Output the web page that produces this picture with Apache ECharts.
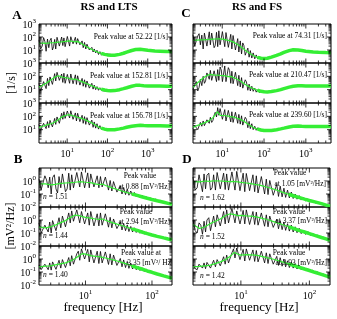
<!DOCTYPE html>
<html><head><meta charset="utf-8">
<script src="https://cdn.jsdelivr.net/npm/echarts@6/dist/echarts.min.js"></script>
<style>html,body{margin:0;padding:0;background:#fff}#c{width:337px;height:319px}</style>
</head><body><div id="c"></div>
<script>
// ---------- DATA ----------
// frequency grids (Hz)
const freqHi = [2, 2.2, 2.4, 2.6, 2.8, 3, 3.25, 3.5, 3.75, 4, 4.3, 4.6, 4.9, 5.2, 5.6, 6, 6.4, 6.8, 7.3, 7.8, 8.3, 8.9, 9.5, 10.1, 10.8, 11.5, 12.3, 13.1, 14, 15, 16, 17, 18.2, 19.4, 20.7, 22, 23.5, 25, 27, 29, 31, 33, 35.5, 38, 41, 44, 47, 51, 55, 60, 65, 71, 78, 86, 95, 105, 120, 140, 170, 200, 250, 320, 400, 500, 650, 800, 1000, 1300, 1700, 2200, 2800, 3400, 4000];
const smoothHi = [2, 2.5, 3, 4, 5, 6, 7, 7.6, 8, 9, 10, 11, 12, 14, 16, 18, 20, 23, 26, 30, 35, 40, 50, 60, 70, 85, 100, 120, 150, 200, 250, 300, 400, 500, 650, 800, 1000, 1500, 2000, 3000, 4000];
const freqLo = [2, 2.15, 2.3, 2.45, 2.6, 2.75, 2.9, 3.05, 3.2, 3.4, 3.6, 3.8, 4, 4.25, 4.5, 4.75, 5, 5.3, 5.6, 5.9, 6.2, 6.6, 7, 7.4, 7.8, 8.2, 8.7, 9.2, 9.7, 10.2, 10.8, 11.4, 12, 12.7, 13.4, 14.2, 15, 15.9, 16.8, 17.8, 18.8, 19.9, 21, 22.2, 23.5, 24.9, 26.4, 28, 29.7, 31.5, 33.4, 35.4, 37.5, 40, 42.5, 45, 48, 51, 54.5, 58, 62, 66, 71, 76, 82, 88, 95, 103, 112, 122, 133, 145, 158, 172, 186, 200];
const smoothLo = [2, 2.5, 3, 3.5, 4, 5, 6, 7, 8, 9, 10, 12, 14, 16, 18, 20, 23, 26, 30, 35, 40, 50, 60, 70, 85, 100, 120, 150, 175, 200];

// Panel A (RS and LTS), rate [1/s]
const a1Raw = [60, 12, 20, 90, 45, 8, 70, 15, 55, 80, 10, 18, 65, 12, 95, 75, 20, 15, 100, 22, 85, 18, 25, 110, 90, 20, 105, 80, 30, 22, 95, 28, 75, 70, 25, 20, 50, 15, 38, 12, 28, 22, 10, 8, 16, 7, 12, 6, 9.5, 4.5, 7.5, 4, 6, 3.5, 5, 3.6, 4.6, 3.7, 4.6, 4.5, 5.8, 7.5, 9.8, 11, 11.5, 10.5, 9.3, 8.5, 8.2, 7.9, 7.6, 7.5, 7.4];
const a2Raw = [30, 8, 10, 40, 45, 12, 70, 20, 90, 120, 25, 35, 160, 45, 200, 180, 50, 40, 150, 35, 170, 30, 35, 140, 130, 30, 150, 120, 28, 30, 130, 25, 110, 90, 22, 20, 70, 18, 55, 15, 45, 38, 13, 12, 30, 11, 22, 10, 17, 9, 14, 8.5, 12, 8, 10, 8, 9, 8, 9.6, 10, 12.5, 15, 18.5, 21, 21.5, 20, 19.2, 18.8, 18.5, 18.3, 18, 18, 18];
const a3Raw = [25, 9, 10, 30, 35, 12, 40, 14, 50, 55, 16, 20, 70, 25, 90, 120, 30, 40, 170, 60, 220, 70, 80, 250, 230, 75, 260, 200, 60, 50, 180, 45, 170, 150, 40, 35, 120, 30, 95, 25, 80, 65, 22, 18, 52, 15, 38, 13, 28, 11, 20, 10, 15, 9, 12, 9, 10.5, 9.5, 11, 11.5, 13.5, 15.5, 18.2, 20, 21.2, 20.5, 20, 19.8, 19.6, 19.4, 19.2, 19, 19];
const a1Fit = [33, 34, 32, 36, 37, 40, 42, 43, 44, 46, 48, 50, 50, 45, 42, 46, 38, 30, 24, 18, 14, 11.5, 8, 6.5, 5.5, 4.6, 4.2, 3.9, 4, 4.6, 5.6, 6.8, 9.2, 10.8, 11.2, 10.5, 9.5, 8.3, 8, 7.6, 7.5];
const a2Fit = [16, 22, 30, 55, 90, 110, 95, 88, 85, 80, 75, 72, 70, 60, 62, 55, 48, 40, 35, 29, 24, 20, 15, 12.5, 11, 9.5, 8.7, 8.3, 8.5, 10, 12, 14, 18, 21, 21, 20, 19, 18.5, 18.5, 18, 18];
const a3Fit = [15, 18, 22, 28, 38, 55, 80, 92, 100, 115, 125, 135, 140, 110, 95, 85, 90, 70, 60, 50, 40, 33, 22, 16, 13, 11, 10, 9.8, 10, 11.5, 13, 15, 18, 20, 21, 20.5, 20, 19.5, 19.5, 19, 19];

// Panel C (RS and FS), rate [1/s]
const c1Raw = [150, 20, 15, 120, 180, 25, 140, 12, 200, 160, 20, 18, 250, 25, 200, 280, 15, 22, 230, 18, 300, 25, 20, 260, 240, 18, 220, 180, 16, 14, 160, 12, 130, 100, 10, 8, 75, 7, 50, 5, 35, 22, 4, 3.2, 14, 2.8, 9, 2.4, 6, 2.1, 4.2, 2, 3.2, 1.9, 2.7, 1.9, 2.6, 2.4, 3.4, 3.8, 5.2, 7, 9.2, 10.6, 10.2, 9, 8.1, 7.4, 6.9, 6.6, 6.4, 6.3, 6.2];
const c2Raw = [10, 25, 40, 8, 15, 60, 20, 100, 30, 45, 180, 250, 60, 280, 50, 45, 260, 300, 40, 320, 50, 500, 300, 40, 45, 600, 40, 35, 450, 280, 30, 240, 28, 24, 200, 160, 20, 120, 16, 80, 13, 11, 55, 38, 9, 26, 8, 18, 7.5, 13, 6.5, 10, 6, 8.5, 6.2, 7.5, 6.5, 7.5, 7.8, 8.6, 10.2, 12.8, 15.6, 18, 19.6, 19.4, 19, 18.7, 18.5, 18.5, 18.5, 18.5, 18.5];
const c3Raw = [12, 20, 28, 10, 14, 35, 18, 45, 20, 25, 55, 70, 30, 85, 35, 50, 120, 200, 90, 450, 120, 380, 300, 60, 50, 320, 45, 40, 280, 250, 38, 220, 35, 32, 200, 170, 30, 140, 26, 110, 22, 18, 85, 60, 14, 42, 12, 28, 10, 18, 9, 14, 8.5, 11, 8, 9.5, 8, 9.2, 9, 10, 11.6, 13.8, 16.2, 18, 18.5, 18, 17.6, 17.2, 17, 17, 17, 17, 17];
const c1Fit = [55, 58, 60, 62, 65, 68, 70, 71, 72, 72, 70, 66, 62, 55, 48, 42, 36, 28, 21, 15, 10, 7.2, 4.5, 3.3, 2.7, 2.3, 2.2, 2.3, 2.8, 3.8, 5, 6.5, 9, 10.5, 10, 9, 8, 7, 6.6, 6.3, 6.2];
const c2Fit = [15, 30, 50, 100, 140, 130, 120, 122, 125, 115, 110, 112, 115, 95, 100, 85, 75, 60, 48, 36, 26, 20, 14, 11, 9, 7.5, 7, 6.8, 7.2, 8.5, 10, 12, 15.5, 18, 19.5, 19.5, 19, 18.5, 18.5, 18.5, 18.5];
const c3Fit = [15, 20, 25, 35, 50, 80, 150, 220, 200, 120, 100, 115, 125, 105, 95, 90, 82, 72, 62, 50, 38, 28, 18, 13, 11, 9.5, 8.8, 8.5, 8.8, 10, 11.5, 13, 16, 18, 18.5, 18, 17.5, 17, 17, 17, 17];

// Panel B (RS and LTS), PSD [mV^2/Hz]
const b1Raw = [1.5, 0.2, 0.15, 2.5, 1.2, 0.3, 2, 0.1, 1.8, 3, 0.25, 0.12, 2.2, 0.3, 3.5, 2.8, 0.15, 0.25, 4, 0.2, 3, 0.3, 0.25, 4.5, 3.5, 0.35, 5, 3.8, 0.3, 0.4, 4.2, 0.3, 3.5, 3, 0.35, 0.25, 2.5, 0.3, 2.2, 0.35, 0.25, 2, 1.5, 0.2, 1.1, 0.17, 0.9, 0.7, 0.14, 0.11, 0.4, 0.1, 0.32, 0.09, 0.24, 0.08, 0.17, 0.07, 0.13, 0.062, 0.1, 0.052, 0.08, 0.045, 0.062, 0.038, 0.05, 0.032, 0.041, 0.027, 0.032, 0.022, 0.026, 0.018, 0.02, 0.015];
const b2Raw = [0.6, 0.1, 0.08, 0.4, 0.5, 0.12, 0.7, 0.1, 0.9, 1.2, 0.15, 0.2, 1.5, 0.25, 2, 2.8, 0.3, 0.4, 3.5, 0.6, 5, 0.8, 0.7, 6, 5, 0.6, 4.5, 4, 0.5, 0.45, 3.5, 0.4, 4.5, 3.2, 0.35, 0.3, 3, 0.35, 3.5, 0.4, 0.3, 3, 2.2, 0.28, 1.6, 0.25, 1.2, 0.9, 0.22, 0.2, 0.7, 0.17, 0.55, 0.15, 0.42, 0.13, 0.32, 0.12, 0.25, 0.11, 0.19, 0.095, 0.15, 0.082, 0.115, 0.072, 0.09, 0.06, 0.07, 0.05, 0.055, 0.041, 0.044, 0.034, 0.036, 0.028];
const b3Raw = [0.35, 0.15, 0.12, 0.4, 0.45, 0.15, 0.5, 0.14, 0.6, 0.7, 0.16, 0.18, 0.8, 0.2, 0.9, 1, 0.22, 0.25, 1.3, 0.3, 1.8, 0.4, 0.5, 2.5, 4, 0.8, 6, 7, 1, 0.8, 5.5, 0.6, 5, 4.5, 0.5, 0.5, 4, 0.45, 3.8, 0.5, 0.4, 3.5, 3, 0.38, 2.5, 0.35, 2, 1.5, 0.32, 0.28, 1.1, 0.25, 0.85, 0.22, 0.65, 0.19, 0.48, 0.17, 0.36, 0.15, 0.27, 0.13, 0.21, 0.11, 0.16, 0.095, 0.12, 0.08, 0.09, 0.062, 0.066, 0.048, 0.05, 0.038, 0.039, 0.031];
const b1Fit = [0.6, 0.6, 0.5, 0.55, 0.62, 0.7, 0.75, 0.8, 0.88, 0.85, 0.8, 0.75, 0.6, 0.52, 0.58, 0.45, 0.35, 0.28, 0.22, 0.17, 0.14, 0.1, 0.078, 0.062, 0.047, 0.038, 0.03, 0.023, 0.019, 0.016];
const b2Fit = [0.3, 0.25, 0.3, 0.4, 0.55, 0.9, 1.6, 2.4, 2.2, 1.8, 1.6, 1.4, 1.2, 1.1, 1.2, 0.95, 0.75, 0.6, 0.48, 0.38, 0.3, 0.21, 0.16, 0.12, 0.09, 0.07, 0.055, 0.042, 0.035, 0.03];
const b3Fit = [0.25, 0.28, 0.3, 0.35, 0.4, 0.5, 0.7, 1.1, 1.8, 2.6, 2.4, 1.8, 1.6, 1.5, 1.35, 1.2, 1.0, 0.85, 0.7, 0.55, 0.44, 0.3, 0.22, 0.17, 0.12, 0.095, 0.07, 0.05, 0.04, 0.033];

// Panel D (RS and FS), PSD [mV^2/Hz]
const d1Raw = [2, 0.2, 0.3, 3, 2.5, 0.15, 3.5, 0.25, 2.8, 4, 0.2, 0.3, 3, 0.2, 4.5, 3.2, 0.25, 0.18, 4, 0.22, 3.5, 0.2, 0.25, 5, 4, 0.2, 5.5, 4.5, 0.18, 0.2, 4, 0.15, 3.8, 3.5, 0.18, 0.14, 3, 0.15, 2.5, 0.12, 0.11, 2.2, 1.8, 0.1, 1.4, 0.09, 1.1, 0.8, 0.08, 0.07, 0.55, 0.065, 0.4, 0.06, 0.28, 0.055, 0.2, 0.05, 0.14, 0.045, 0.1, 0.04, 0.075, 0.034, 0.055, 0.029, 0.042, 0.025, 0.032, 0.02, 0.024, 0.016, 0.018, 0.013, 0.014, 0.01];
const d2Raw = [1, 0.15, 0.1, 0.6, 0.4, 0.08, 0.8, 0.12, 1, 1.5, 0.15, 0.2, 2, 0.3, 2.5, 3.5, 0.35, 0.4, 4.5, 0.5, 6, 0.6, 0.7, 8, 6, 0.6, 5, 6.5, 0.5, 0.55, 5.5, 0.5, 6, 5, 0.45, 0.5, 4.5, 0.45, 4, 0.4, 0.38, 3.5, 3, 0.33, 2.5, 0.3, 2, 1.5, 0.27, 0.24, 1.15, 0.21, 0.9, 0.18, 0.7, 0.16, 0.52, 0.14, 0.4, 0.12, 0.3, 0.105, 0.23, 0.09, 0.17, 0.078, 0.13, 0.066, 0.095, 0.054, 0.07, 0.043, 0.05, 0.034, 0.036, 0.026];
const d3Raw = [0.35, 0.18, 0.15, 0.4, 0.45, 0.2, 0.5, 0.18, 0.55, 0.6, 0.2, 0.22, 0.8, 0.25, 0.9, 1.2, 0.3, 0.35, 1.5, 0.4, 2, 0.5, 0.7, 3, 6, 1.2, 7, 5, 0.9, 0.8, 5.5, 0.7, 6, 5.5, 0.8, 0.7, 5, 0.65, 4.5, 0.6, 0.55, 4, 3.5, 0.5, 3, 0.45, 2.5, 2, 0.4, 0.36, 1.6, 0.32, 1.25, 0.28, 0.95, 0.25, 0.72, 0.22, 0.55, 0.2, 0.42, 0.17, 0.32, 0.15, 0.24, 0.13, 0.18, 0.11, 0.135, 0.09, 0.1, 0.07, 0.072, 0.055, 0.055, 0.042];
const d1Fit = [0.9, 0.85, 1.0, 0.95, 1.05, 1.0, 0.95, 0.9, 0.92, 0.85, 0.78, 0.7, 0.62, 0.55, 0.5, 0.44, 0.36, 0.3, 0.24, 0.18, 0.14, 0.095, 0.07, 0.055, 0.04, 0.032, 0.025, 0.018, 0.014, 0.011];
const d2Fit = [0.45, 0.22, 0.3, 0.5, 0.7, 1.2, 2.2, 3.0, 2.6, 2.2, 2.3, 2.1, 2.0, 1.8, 1.6, 1.4, 1.15, 0.95, 0.75, 0.58, 0.45, 0.3, 0.22, 0.16, 0.12, 0.09, 0.065, 0.045, 0.035, 0.027];
const d3Fit = [0.25, 0.27, 0.3, 0.32, 0.4, 0.6, 0.9, 1.6, 3.2, 2.4, 2.0, 2.2, 2.1, 2.0, 1.8, 1.6, 1.35, 1.15, 0.95, 0.75, 0.6, 0.42, 0.31, 0.24, 0.17, 0.13, 0.095, 0.065, 0.05, 0.04];

// annotation texts
const peakA = ['52.22', '152.81', '156.78'];
const peakC = ['74.31', '210.47', '239.60'];
const peakB = ['0.88', '2.94', '3.35'];
const peakD = ['1.05', '3.37', '3.93'];
const slopeB = ['1.51', '1.44', '1.40'];
const slopeD = ['1.62', '1.52', '1.42'];

// ---------- LAYOUT / STYLE ----------
const SERIF = '"Liberation Serif", "Times New Roman", "DejaVu Serif", serif';
const GREEN = '#35ee35';
const panels = [
  {left: 39, width: 133, tops: [24, 63, 103], heights: [39, 40, 40], x: [2, 4000], y: [1, 1000],
   f: freqHi, fs: smoothHi, raw: [a1Raw, a2Raw, a3Raw], fit: [a1Fit, a2Fit, a3Fit], yLab: true, hideExp: 0, thick: 70},
  {left: 193, width: 138, tops: [24, 63, 103], heights: [39, 40, 40], x: [2, 4000], y: [1, 1000],
   f: freqHi, fs: smoothHi, raw: [c1Raw, c2Raw, c3Raw], fit: [c1Fit, c2Fit, c3Fit], yLab: false, hideExp: 0, thick: 70},
  {left: 39, width: 133, tops: [168, 207, 246], heights: [39, 39, 39], x: [2, 200], y: [0.01, 10],
   f: freqLo, fs: smoothLo, raw: [b1Raw, b2Raw, b3Raw], fit: [b1Fit, b2Fit, b3Fit], yLab: true, hideExp: 1, thick: 45},
  {left: 193, width: 137, tops: [168, 207, 246], heights: [39, 39, 39], x: [2, 200], y: [0.01, 10],
   f: freqLo, fs: smoothLo, raw: [d1Raw, d2Raw, d3Raw], fit: [d1Fit, d2Fit, d3Fit], yLab: false, hideExp: 1, thick: 45}
];

const rich = {
  b: {fontFamily: SERIF, fontSize: 10, color: '#000', lineHeight: 12, verticalAlign: 'bottom'},
  s: {fontFamily: SERIF, fontSize: 7, color: '#000', lineHeight: 5, verticalAlign: 'top'}
};
function fmt(hide) {
  return function (v) {
    const e = Math.round(Math.log10(v));
    if (Math.abs(v / Math.pow(10, e) - 1) > 1e-6) return '';
    if (e === hide) return '';
    return '{b|10}{s|' + e + '}';
  };
}
function logTicks(min, max) {
  const out = [];
  for (let e = Math.floor(Math.log10(min)) - 1; e <= Math.ceil(Math.log10(max)); e++) {
    for (let m = 1; m <= 9; m++) {
      const v = m * Math.pow(10, e);
      if (v > min * 1.0001 && v < max * 0.9999) out.push({v: v, major: m === 1});
    }
  }
  return out;
}

const grid = [], xAxis = [], yAxis = [], series = [];
panels.forEach((p) => {
  for (let i = 0; i < 3; i++) {
    const gi = grid.length;
    grid.push({left: p.left, top: p.tops[i], width: p.width, height: p.heights[i], show: true,
      borderColor: '#000', borderWidth: 1, backgroundColor: 'rgba(0,0,0,0)'});
    xAxis.push({gridIndex: gi, type: 'log', logBase: 10, min: p.x[0], max: p.x[1],
      axisLine: {show: false}, axisTick: {show: false}, splitLine: {show: false},
      axisLabel: {show: i === 2, formatter: fmt(null), rich: rich, margin: 4, showMinLabel: true, showMaxLabel: true}});
    yAxis.push({gridIndex: gi, type: 'log', logBase: 10, min: p.y[0], max: p.y[1],
      axisLine: {show: false}, axisTick: {show: false}, splitLine: {show: false},
      axisLabel: {show: p.yLab, formatter: fmt(p.hideExp), rich: rich, margin: 3}});
    const raw = p.raw[i], fit = p.fit[i];
    series.push({type: 'line', xAxisIndex: gi, yAxisIndex: gi, symbol: 'none', silent: true, animation: false, z: 2,
      data: p.f.map((f, k) => [f, raw[k]]), lineStyle: {color: '#000', width: 0.8}});
    series.push({type: 'line', xAxisIndex: gi, yAxisIndex: gi, symbol: 'none', silent: true, animation: false, z: 3,
      data: p.fs.map((f, k) => [f, fit[k]]).filter(d => d[0] >= p.thick), lineStyle: {color: GREEN, width: 3.5}});
    series.push({type: 'line', xAxisIndex: gi, yAxisIndex: gi, symbol: 'none', silent: true, animation: false, z: 4,
      data: p.fs.map((f, k) => [f, fit[k]]), lineStyle: {color: GREEN, width: 1.2}});
    const xt = logTicks(p.x[0], p.x[1]), yt = logTicks(p.y[0], p.y[1]);
    const x0 = p.x[0], x1 = p.x[1], y0 = p.y[0], y1 = p.y[1];
    series.push({type: 'custom', xAxisIndex: gi, yAxisIndex: gi, silent: true, animation: false, clip: false, z: 10,
      data: [[x0, y0]],
      renderItem: function (params, api) {
        const a = api.coord([x0, y0]), b = api.coord([x1, y1]);
        const st = {stroke: '#000', lineWidth: 0.8};
        const ch = [];
        xt.forEach(t => {
          const x = api.coord([t.v, y0])[0];
          const L = t.major ? 4.5 : 2.5;
          ch.push({type: 'line', shape: {x1: x, y1: a[1], x2: x, y2: a[1] - L}, style: st});
          ch.push({type: 'line', shape: {x1: x, y1: b[1], x2: x, y2: b[1] + L}, style: st});
        });
        yt.forEach(t => {
          const y = api.coord([x0, t.v])[1];
          const L = t.major ? 4 : 2.5;
          ch.push({type: 'line', shape: {x1: a[0], y1: y, x2: a[0] + L, y2: y}, style: st});
          ch.push({type: 'line', shape: {x1: b[0], y1: y, x2: b[0] - L, y2: y}, style: st});
        });
        return {type: 'group', children: ch};
      }});
  }
});

// ---------- TEXT ----------
const graphic = [];
function T(x, y, text, o) {
  o = o || {};
  graphic.push({type: 'text', x: x, y: y, rotation: o.rot || 0, z: 100, silent: true,
    style: {text: text, fill: '#000', font: (o.bold ? 'bold ' : '') + (o.size || 7.5) + 'px ' + SERIF,
      align: o.align || 'center', verticalAlign: 'middle', rich: o.rich}});
}
T(109, 7, 'RS and LTS', {bold: true, size: 11});
T(257, 7, 'RS and FS', {bold: true, size: 11});
T(17, 16, 'A', {bold: true, size: 13});
T(186, 14, 'C', {bold: true, size: 13});
T(18, 160, 'B', {bold: true, size: 13});
T(187, 160, 'D', {bold: true, size: 13});
T(12, 83, '[1/s]', {size: 12, rot: Math.PI / 2});
T(11, 226, '[mV\u00b2/Hz]', {size: 12, rot: Math.PI / 2});
T(103, 308, 'frequency [Hz]', {size: 13});
T(259, 308, 'frequency [Hz]', {size: 13});
const tA = panels[0].tops, tB = panels[2].tops;
const itl = {i: {fontStyle: 'italic', fontFamily: SERIF, fontSize: 7.5}};
for (let i = 0; i < 3; i++) {
  T(168, tA[i] + 13, 'Peak value at ' + peakA[i] + ' [1/s]', {align: 'right'});
  T(327, tA[i] + 12, 'Peak value at ' + peakC[i] + ' [1/s]', {align: 'right'});
  T(43, tB[i] + 29, '{i|n} = ' + slopeB[i], {align: 'left', rich: itl});
  T(200, tB[i] + 30, '{i|n} = ' + slopeD[i], {align: 'left', rich: itl});
}
T(140, tB[0] + 8, 'Peak value');
T(170, tB[0] + 19, 'at ' + peakB[0] + ' [mV\u00b2/Hz]', {align: 'right'});
T(136, tB[1] + 5, 'Peak value');
T(170, tB[1] + 15, 'at ' + peakB[1] + ' [mV\u00b2/Hz]', {align: 'right'});
T(141, tB[2] + 7, 'Peak value at');
T(171, tB[2] + 17, peakB[2] + ' [mV\u00b2/ Hz', {align: 'right'});
T(290, tB[0] + 5, 'Peak value');
T(326, tB[0] + 16, 'at ' + peakD[0] + ' [mV\u00b2/Hz]', {align: 'right'});
T(289, tB[1] + 5, 'Peak value');
T(327, tB[1] + 14, 'at ' + peakD[1] + ' [mV\u00b2/Hz]', {align: 'right'});
T(289, tB[2] + 7, 'Peak value');
T(327, tB[2] + 17, 'at ' + peakD[2] + ' [mV\u00b2/Hz]', {align: 'right'});

const chart = echarts.init(document.getElementById('c'), null, {renderer: 'canvas'});
chart.setOption({
  animation: false,
  backgroundColor: '#fff',
  textStyle: {fontFamily: SERIF},
  grid: grid, xAxis: xAxis, yAxis: yAxis, series: series, graphic: graphic
});
</script></body></html>
